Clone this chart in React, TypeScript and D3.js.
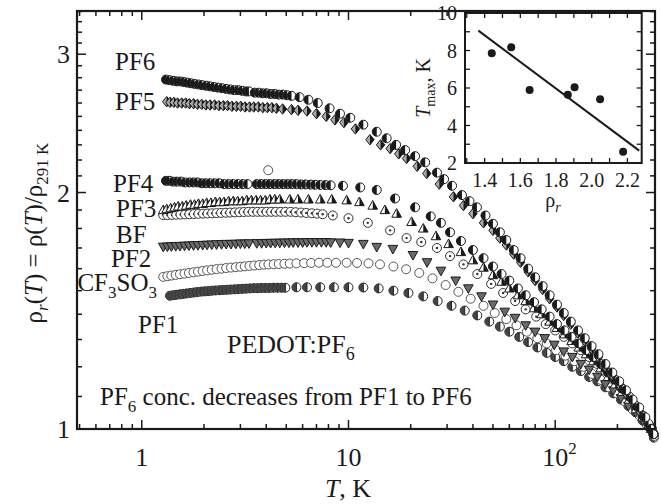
import React from "react";
import * as d3 from "d3";

// ---------- main plot data: [T (K), rho_r] ----------
const pf6: [number, number][] = [
  [1.31,2.785],[1.36,2.78],[1.42,2.775],[1.48,2.77],[1.54,2.77],[1.6,2.765],[1.66,2.76],[1.73,2.755],[1.8,2.75],[1.88,2.745],[1.96,2.74],[2.05,2.735],[2.14,2.73],[2.24,2.725],[2.34,2.72],[2.45,2.715],[2.56,2.71],[2.68,2.705],[2.8,2.7],[2.93,2.7],[3.06,2.695],[3.2,2.69],[3.3,2.69],
  [3.52,2.68],[3.68,2.68],[3.85,2.675],[4.02,2.675],[4.2,2.67],[4.4,2.67],[4.6,2.665],[4.82,2.665],[5.05,2.66],[5.3,2.655],
  [5.8,2.645],[6.4,2.625],[7.1,2.6],[8.1,2.56],[9.1,2.52],[10.2,2.49],[11.8,2.44],[13.7,2.39],[15.3,2.345],[17,2.3],[18.8,2.265],[21,2.225],[23.5,2.185],[26.8,2.12],[29,2.08],[31.7,2.04],[35.4,1.985],[38.5,1.95],[41.8,1.915],[46,1.87],[50,1.825],
  [54,1.78],[58,1.74],[63,1.69],[68,1.65],[74,1.6],[80,1.56],[87,1.52],[94,1.48],[102,1.44],[110,1.405],[119,1.37],[129,1.335],[139,1.305],[150,1.275],[162,1.245],[175,1.21],[189,1.18],[204,1.15],[220,1.12],[237,1.09],[255,1.065],[273,1.035],[291,1.0],[298,0.985],
];
const pf5: [number, number][] = [
  [1.32,2.61],[1.37,2.605],[1.43,2.605],[1.49,2.6],[1.56,2.6],[1.63,2.6],[1.7,2.595],[1.78,2.595],[1.86,2.59],[1.95,2.59],[2.04,2.585],[2.14,2.585],[2.25,2.585],[2.36,2.58],[2.48,2.58],[2.6,2.58],[2.73,2.575],[2.87,2.575],[3.01,2.575],[3.16,2.57],[3.32,2.57],[3.48,2.57],[3.66,2.57],[3.85,2.565],[4.05,2.565],[4.26,2.565],[4.48,2.56],
  [4.8,2.555],[5.3,2.55],[5.7,2.545],[6.3,2.54],[7.0,2.52],[7.8,2.5],[8.6,2.475],[9.5,2.455],[10.8,2.41],[12.7,2.335],[14.3,2.3],[15.9,2.275],[17.5,2.24],[19.1,2.21],[21.5,2.16],[23.9,2.115],[27.5,2.05],[32.2,1.975],[36,1.925],[40,1.88],[45,1.83],[50,1.79],
  [54,1.75],[58,1.715],[63,1.67],[68,1.63],[74,1.585],[80,1.545],[87,1.505],[94,1.465],[102,1.43],[110,1.395],[119,1.36],[129,1.325],[139,1.295],[150,1.265],[162,1.235],[175,1.2],[189,1.17],[204,1.14],[220,1.11],[237,1.085],[255,1.055],[273,1.03],[291,1.0],[297,0.99],
];
const pf4: [number, number][] = [
  [1.31,2.07],[1.36,2.07],[1.42,2.065],[1.48,2.065],[1.55,2.065],[1.62,2.06],[1.7,2.06],[1.78,2.06],[1.86,2.06],[1.95,2.055],[2.04,2.055],[2.14,2.055],[2.25,2.055],[2.37,2.055],[2.5,2.05],[2.63,2.05],[2.77,2.05],[2.92,2.05],[3.08,2.05],[3.25,2.05],
  [3.6,2.05],[3.78,2.05],[3.97,2.05],[4.17,2.05],[4.38,2.05],[4.6,2.05],[4.83,2.05],[5.07,2.05],[5.32,2.05],[5.6,2.05],[5.9,2.048],[6.2,2.048],[6.55,2.047],[6.9,2.046],[7.3,2.045],[7.75,2.044],[8.2,2.043],
  [9.4,2.04],[11.4,2.03],[13.7,2.015],[16.8,1.965],[21,1.915],[25,1.865],[28,1.83],[31,1.78],[35,1.735],[40,1.69],[45,1.65],[50,1.61],
  [55,1.575],[60,1.545],[66,1.51],[72,1.48],[79,1.45],[86,1.42],[94,1.39],[102,1.36],[111,1.335],[120,1.31],[130,1.285],[141,1.26],[153,1.235],[166,1.21],[180,1.18],[195,1.155],[211,1.125],[228,1.1],[246,1.07],[265,1.04],[283,1.015],[291,1.0],[300,0.985],
];
const pf3: [number, number][] = [
  [1.27,1.9],[1.32,1.905],[1.38,1.91],[1.44,1.915],[1.5,1.92],[1.57,1.92],[1.64,1.925],[1.72,1.93],[1.8,1.93],[1.88,1.935],[1.97,1.935],[2.06,1.94],[2.16,1.94],[2.27,1.945],[2.38,1.945],[2.5,1.945],[2.63,1.95],[2.77,1.95],[2.91,1.95],[3.06,1.95],[3.22,1.955],[3.39,1.955],[3.57,1.955],[3.76,1.955],[3.96,1.955],[4.17,1.96],[4.4,1.96],[4.65,1.96],
  [5.2,1.96],[5.7,1.96],[6.4,1.96],[7.3,1.96],[8.3,1.96],[9.8,1.955],[11.3,1.945],[13.1,1.925],[15,1.9],[17.1,1.88],[20.2,1.835],[23,1.8],[26.5,1.76],[30.5,1.72],[35,1.68],[40,1.64],[45,1.605],[50,1.57],
  [55,1.54],[60,1.51],[66,1.48],[72,1.455],[79,1.425],[86,1.4],[94,1.37],[102,1.345],[111,1.32],[120,1.295],[130,1.27],[141,1.245],[153,1.22],[166,1.195],[180,1.165],[195,1.14],[211,1.115],[228,1.09],[246,1.06],[265,1.035],[283,1.01],[291,1.0],
];
const bf: [number, number][] = [
  [1.27,1.872],[1.33,1.872],[1.4,1.873],[1.47,1.874],[1.54,1.875],[1.62,1.876],[1.7,1.877],[1.79,1.878],[1.88,1.879],[1.98,1.88],[2.08,1.881],[2.19,1.882],[2.3,1.883],[2.42,1.884],[2.55,1.885],[2.68,1.886],[2.82,1.887],[2.97,1.888],[3.12,1.889],[3.28,1.89],[3.45,1.89],[3.63,1.89],[3.82,1.89],[4.02,1.89],[4.23,1.89],[4.45,1.89],[4.7,1.89],
  [4.95,1.89],[5.25,1.89],[5.55,1.888],[5.9,1.886],[6.25,1.884],[6.65,1.882],[7.05,1.88],[7.5,1.877],[8.4,1.87],[10,1.855],[12.4,1.83],[15.9,1.79],[19.1,1.75],[22.5,1.73],[26.8,1.7],[31,1.66],[36,1.62],[42,1.575],[49,1.53],
  [56,1.49],[64,1.455],[72,1.42],[81,1.39],[90,1.36],[100,1.335],[110,1.31],[121,1.285],[133,1.26],[146,1.235],[160,1.21],[175,1.185],[191,1.16],[208,1.13],[226,1.1],[245,1.07],[265,1.04],[285,1.01],[295,0.995],
];
const pf2: [number, number][] = [
  [1.27,1.706],[1.33,1.707],[1.39,1.708],[1.46,1.709],[1.53,1.71],[1.61,1.711],[1.69,1.712],[1.78,1.713],[1.87,1.714],[1.97,1.715],[2.07,1.716],[2.18,1.717],[2.3,1.718],[2.43,1.719],[2.56,1.72],[2.7,1.72],[2.85,1.721],[3.0,1.722],[3.15,1.722],[3.3,1.723],
  [3.6,1.724],[3.8,1.724],[4.0,1.725],[4.2,1.725],[4.42,1.726],[4.65,1.726],[4.9,1.727],[5.15,1.727],[5.4,1.728],[5.7,1.728],[6.0,1.728],[6.3,1.729],[6.65,1.729],[7.0,1.729],[7.4,1.729],[7.8,1.729],[8.2,1.728],
  [9.1,1.727],[10,1.725],[11.8,1.72],[13.7,1.705],[16.4,1.695],[20.5,1.665],[24,1.63],[28,1.59],[33,1.545],[38,1.51],[44,1.475],[50,1.44],
  [57,1.41],[64,1.385],[72,1.355],[80,1.33],[89,1.305],[99,1.28],[110,1.255],[121,1.235],[133,1.21],[146,1.19],[160,1.165],[175,1.14],[191,1.12],[208,1.095],[226,1.07],[245,1.05],[265,1.025],[285,1.005],[293,0.995],
];
const cf3so3: [number, number][] = [
  [1.27,1.562],[1.33,1.565],[1.39,1.568],[1.46,1.571],[1.53,1.574],[1.61,1.577],[1.69,1.58],[1.78,1.583],[1.87,1.586],[1.97,1.589],[2.07,1.592],[2.18,1.595],[2.3,1.598],[2.43,1.6],[2.56,1.603],[2.7,1.605],[2.85,1.607],[3.0,1.609],[3.15,1.611],[3.32,1.613],[3.5,1.615],[3.7,1.617],[3.9,1.619],[4.1,1.62],[4.35,1.621],[4.6,1.622],[4.9,1.623],[5.2,1.624],
  [5.6,1.625],[6.1,1.626],[6.6,1.627],[7.2,1.628],[7.9,1.628],[8.7,1.628],[9.8,1.628],[11,1.627],[12.5,1.625],[14.2,1.62],[16.5,1.61],[19,1.597],[22,1.58],[25.5,1.555],[29.5,1.525],[34,1.495],[39,1.465],[45,1.435],[51,1.405],
  [58,1.38],[65,1.355],[73,1.33],[82,1.305],[91,1.285],[101,1.26],[112,1.24],[124,1.22],[137,1.2],[151,1.175],[166,1.155],[182,1.13],[199,1.11],[217,1.085],[236,1.06],[256,1.04],[276,1.015],[291,1.0],[301,0.98],
  [4.09,2.135],
];
const pf1: [number, number][] = [
  [1.37,1.478],[1.42,1.48],[1.47,1.482],[1.53,1.484],[1.59,1.486],[1.65,1.488],[1.72,1.49],[1.79,1.492],[1.86,1.494],[1.94,1.496],[2.02,1.497],[2.1,1.498],[2.19,1.5],[2.28,1.501],[2.38,1.502],[2.48,1.503],[2.59,1.504],[2.7,1.505],[2.82,1.506],[2.94,1.507],[3.07,1.508],[3.2,1.509],[3.34,1.51],[3.49,1.511],[3.64,1.511],[3.8,1.512],[3.97,1.512],[4.15,1.512],[4.34,1.513],[4.54,1.513],[4.75,1.513],[4.95,1.513],
  [5.6,1.515],[6.3,1.515],[7.3,1.515],[8.5,1.515],[10,1.515],[11.8,1.514],[14,1.51],[16.5,1.5],[19.5,1.49],[23,1.475],[27,1.455],[31.5,1.435],[36.5,1.415],[42,1.395],[48,1.37],
  [54,1.35],[60,1.33],[67,1.31],[74,1.29],[82,1.27],[91,1.25],[100,1.235],[110,1.22],[121,1.2],[133,1.185],[146,1.165],[160,1.15],[175,1.13],[191,1.11],[208,1.09],[226,1.07],[245,1.05],[265,1.025],[285,1.005],[300,0.975],
];

// ---------- axis ticks ----------
const xMajorTicks = [1, 10, 100];
const xMinorTicks = [0.5, 0.6, 0.7, 0.8, 0.9, 2, 3, 4, 5, 6, 7, 8, 9, 20, 30, 40, 50, 60, 70, 80, 90, 200];
const yMajorTicks = [1, 2, 3];
const yMinorTicks = [1.1, 1.2, 1.3, 1.4, 1.5, 1.6, 1.7, 1.8, 1.9, 2.1, 2.2, 2.3, 2.4, 2.5, 2.6, 2.7, 2.8, 2.9, 3.1, 3.2, 3.3, 3.4];

// ---------- inset data ----------
const insetRho = [1.44, 1.549, 1.652, 1.866, 1.904, 2.047, 2.176];
const insetTmax = [7.85, 8.17, 5.89, 5.64, 6.04, 5.4, 2.6];
const fitRho = [1.365, 2.266];
const fitTmax = [9.06, 2.66];
const insetXTicks = [1.3, 1.4, 1.5, 1.6, 1.7, 1.8, 1.9, 2.0, 2.1, 2.2];
const insetXLabels = [1.4, 1.6, 1.8, 2.0, 2.2];
const insetYTicks = [2, 3, 4, 5, 6, 7, 8, 9, 10];
const insetYLabels = [2, 4, 6, 8, 10];

const FONT = "'Liberation Serif', 'Times New Roman', serif";
const INK = "#1a1a1a";

type MarkerKind = "halfL" | "diamond" | "triUp" | "dotc" | "triDown" | "openc" | "phi";

const seriesList: { name: string; data: [number, number][]; kind: MarkerKind }[] = [
  { name: "PF1", data: pf1, kind: "phi" },
  { name: "CF3SO3", data: cf3so3, kind: "openc" },
  { name: "PF2", data: pf2, kind: "triDown" },
  { name: "BF", data: bf, kind: "dotc" },
  { name: "PF3", data: pf3, kind: "triUp" },
  { name: "PF4", data: pf4, kind: "halfL" },
  { name: "PF5", data: pf5, kind: "diamond" },
  { name: "PF6", data: pf6, kind: "halfL" },
];

function Marker({ kind, x, y }: { kind: MarkerKind; x: number; y: number }) {
  const r = 4.5;
  const sw = 1;
  switch (kind) {
    case "halfL":
      return (
        <g>
          <circle cx={x} cy={y} r={r} fill="#fff" stroke={INK} strokeWidth={sw} />
          <path d={`M${x},${y - r}A${r},${r} 0 0 0 ${x},${y + r}Z`} fill={INK} />
        </g>
      );
    case "diamond":
      return (
        <g>
          <path d={`M${x},${y - 5.2}L${x + 4.2},${y}L${x},${y + 5.2}L${x - 4.2},${y}Z`} fill="#aaa" stroke={INK} strokeWidth={sw} />
          <path d={`M${x},${y - 5.2}L${x + 4.2},${y}L${x},${y + 5.2}Z`} fill={INK} />
        </g>
      );
    case "triUp":
      return (
        <g>
          <path d={`M${x},${y - 5}L${x + 4.8},${y + 3.6}L${x - 4.8},${y + 3.6}Z`} fill="#fff" stroke={INK} strokeWidth={sw} />
          <path d={`M${x},${y - 5}L${x + 4.8},${y + 3.6}L${x},${y + 3.6}Z`} fill={INK} />
        </g>
      );
    case "triDown":
      return <path d={`M${x},${y + 5}L${x + 4.8},${y - 3.6}L${x - 4.8},${y - 3.6}Z`} fill="#6a6a6a" stroke={INK} strokeWidth={sw} />;
    case "dotc":
      return (
        <g>
          <circle cx={x} cy={y} r={r} fill="#fff" stroke="#333" strokeWidth={sw} />
          <circle cx={x} cy={y} r={1.2} fill="#333" />
        </g>
      );
    case "openc":
      return <circle cx={x} cy={y} r={r} fill="#fff" stroke="#555" strokeWidth={sw} />;
    case "phi":
      return (
        <g>
          <circle cx={x} cy={y} r={r} fill="#fff" stroke="#222" strokeWidth={sw} />
          <path d={`M${x},${y - r}A${r},${r} 0 0 0 ${x},${y + r}Z`} fill="#444" />
          <line x1={x} x2={x} y1={y - r} y2={y + r} stroke="#222" strokeWidth={sw} />
        </g>
      );
  }
  return null;
}

export default function App() {
  const W = 661, H = 504;
  const L = 77, R = 655, T = 11, B = 429;

  const x = d3.scaleLog().domain([0.486, 304]).range([L, R]);
  const y = d3.scaleLog().domain([1, 3.405]).range([B, T]);

  // inset scales
  const iL = 465, iR = 641.7, iT = 13, iB = 163;
  const ix = d3.scaleLinear().domain([1.29, 2.28]).range([iL, iR]);
  const iy = d3.scaleLinear().domain([2, 10]).range([iB, iT]);
  const fitLine = d3.line<number>().x((_, i) => ix(fitRho[i])).y((_, i) => iy(fitTmax[i]));

  const majLen = 9, minLen = 5;

  return (
    <svg width={W} height={H} style={{ display: "block", position: "absolute", left: 0, top: 0, background: "#fff" }} fontFamily={FONT}>
      <rect x={0} y={0} width={W} height={H} fill="#fff" />

      {/* data */}
      {seriesList.map((s) => (
        <g key={s.name}>
          {s.data.map(([t, r], i) => (
            <Marker key={i} kind={s.kind} x={x(t)} y={y(r)} />
          ))}
        </g>
      ))}

      {/* frame and ticks */}
      <g stroke={INK} strokeWidth={1.5}>
        {xMajorTicks.map((t) => (
          <g key={"xM" + t}>
            <line x1={x(t)} x2={x(t)} y1={B} y2={B - majLen} />
            <line x1={x(t)} x2={x(t)} y1={T} y2={T + majLen} />
          </g>
        ))}
        {xMinorTicks.map((t) => (
          <g key={"xm" + t}>
            <line x1={x(t)} x2={x(t)} y1={B} y2={B - minLen} />
            <line x1={x(t)} x2={x(t)} y1={T} y2={T + minLen} />
          </g>
        ))}
        {yMajorTicks.map((v) => (
          <g key={"yM" + v}>
            <line x1={L} x2={L + majLen} y1={y(v)} y2={y(v)} />
            <line x1={R} x2={R - majLen} y1={y(v)} y2={y(v)} />
          </g>
        ))}
        {yMinorTicks.map((v) => (
          <g key={"ym" + v}>
            <line x1={L} x2={L + minLen} y1={y(v)} y2={y(v)} />
            <line x1={R} x2={R - minLen} y1={y(v)} y2={y(v)} />
          </g>
        ))}
      </g>
      <rect x={L} y={T} width={R - L} height={B - T} fill="none" stroke={INK} strokeWidth={2.2} />

      {/* tick labels */}
      <g fontSize={26} fill={INK}>
        <text x={x(1)} y={466} textAnchor="middle">1</text>
        <text x={x(10)} y={466} textAnchor="middle">10</text>
        <text x={x(100)} y={466} textAnchor="middle">10</text>
        <text x={x(100) + 13} y={454} fontSize={17}>2</text>
        {yMajorTicks.map((v) => (
          <text key={"yl" + v} x={70} y={y(v) + 9} textAnchor="end">{v}</text>
        ))}
      </g>

      {/* axis titles */}
      <text x={348} y={497} fontSize={26} textAnchor="middle" fill={INK}>
        <tspan fontStyle="italic">T</tspan>
        <tspan>{", K"}</tspan>
      </text>
      <text transform="translate(42,233) rotate(-90)" fontSize={25} textAnchor="middle" fill={INK}>
        <tspan>ρ</tspan>
        <tspan fontStyle="italic" fontSize={17} dy={6}>r</tspan>
        <tspan dy={-6}>(</tspan>
        <tspan fontStyle="italic">T</tspan>
        <tspan>{") = ρ("}</tspan>
        <tspan fontStyle="italic">T</tspan>
        <tspan>{")/ρ"}</tspan>
        <tspan fontSize={17} dy={6}>{"291 K"}</tspan>
      </text>

      {/* series labels */}
      <g fontSize={25} fill={INK}>
        <text x={115} y={70}>PF6</text>
        <text x={115} y={110}>PF5</text>
        <text x={113} y={192}>PF4</text>
        <text x={116} y={217}>PF3</text>
        <text x={116} y={243}>BF</text>
        <text x={111} y={267}>PF2</text>
        <text x={157} y={291} textAnchor="end">
          <tspan>CF</tspan>
          <tspan fontSize={17} dy={7}>3</tspan>
          <tspan dy={-7}>SO</tspan>
          <tspan fontSize={17} dy={7}>3</tspan>
        </text>
        <text x={138} y={333}>PF1</text>
        <text x={227} y={353} fontSize={26}>
          <tspan>PEDOT:PF</tspan>
          <tspan fontSize={18} dy={7}>6</tspan>
        </text>
        <text x={100} y={405}>
          <tspan>PF</tspan>
          <tspan fontSize={17} dy={7}>6</tspan>
          <tspan dy={-7}>{" conc. decreases from PF1 to PF6"}</tspan>
        </text>
      </g>

      {/* inset */}
      <g>
        <rect x={iL} y={iT} width={iR - iL} height={iB - iT} fill="#fff" stroke={INK} strokeWidth={2} />
        <g stroke={INK} strokeWidth={1.3}>
          {insetXTicks.map((v) => (
            <g key={"ixt" + v}>
              <line x1={ix(v)} x2={ix(v)} y1={iT} y2={iT + 5} />
              <line x1={ix(v)} x2={ix(v)} y1={iB} y2={iB - 5} />
            </g>
          ))}
          {insetYTicks.map((v) => (
            <g key={"iyt" + v}>
              <line x1={iL} x2={iL + 5} y1={iy(v)} y2={iy(v)} />
              <line x1={iR} x2={iR - 5} y1={iy(v)} y2={iy(v)} />
            </g>
          ))}
        </g>
        <path d={fitLine([0, 1]) || ""} stroke={INK} strokeWidth={2} fill="none" />
        {insetRho.map((r, i) => (
          <circle key={"ip" + i} cx={ix(r)} cy={iy(insetTmax[i])} r={4} fill={INK} />
        ))}
        <g fontSize={20} fill={INK}>
          {insetXLabels.map((v) => (
            <text key={"ixl" + v} x={ix(v)} y={187} textAnchor="middle">{v.toFixed(1)}</text>
          ))}
          {insetYLabels.map((v) => (
            <text key={"iyl" + v} x={457} y={iy(v) + 7} textAnchor="end">{v}</text>
          ))}
          <text x={553} y={207} textAnchor="middle">
            <tspan>ρ</tspan>
            <tspan fontStyle="italic" fontSize={14} dy={5}>r</tspan>
          </text>
          <text transform="translate(430,88) rotate(-90)" textAnchor="middle">
            <tspan fontStyle="italic">T</tspan>
            <tspan fontSize={14} dy={5}>max</tspan>
            <tspan dy={-5}>{", K"}</tspan>
          </text>
        </g>
      </g>
    </svg>
  );
}
